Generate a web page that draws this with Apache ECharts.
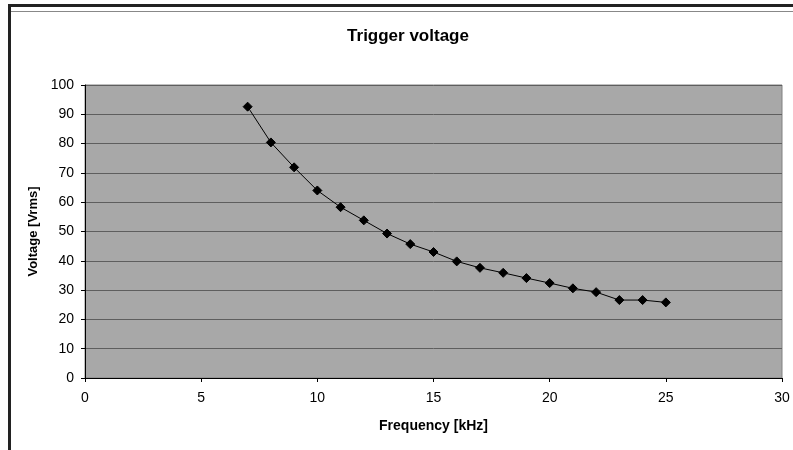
<!DOCTYPE html>
<html>
<head>
<meta charset="utf-8">
<script src="https://cdn.jsdelivr.net/npm/echarts@6/dist/echarts.min.js"></script>
<style>
html,body{margin:0;padding:0;background:#fff;}
#c{width:793px;height:450px;}
</style>
</head>
<body>
<div id="c"></div>
<script>
var frequencies = [7, 8, 9, 10, 11, 12, 13, 14, 15, 16, 17, 18, 19, 20, 21, 22, 23, 24, 25];
var voltages = [92.6, 80.4, 71.9, 64.0, 58.3, 53.8, 49.3, 45.7, 43.0, 39.8, 37.6, 35.9, 34.1, 32.4, 30.6, 29.3, 26.6, 26.6, 25.8];
var titleText = 'Trigger voltage';
var xName = 'Frequency [kHz]';
var yName = 'Voltage [Vrms]';

var points = frequencies.map(function (f, i) { return [f, voltages[i]]; });
var font = 'Liberation Sans, Arial, sans-serif';

var chart = echarts.init(document.getElementById('c'));
chart.setOption({
  animation: false,
  backgroundColor: '#ffffff',
  title: {
    text: titleText,
    left: 403,
    top: 23,
    textAlign: 'center',
    textStyle: { fontFamily: font, fontSize: 17, fontWeight: 'bold', color: '#000' }
  },
  grid: {
    left: 85, right: 11, top: 85, bottom: 72,
    show: true,
    backgroundColor: '#a8a8a8',
    borderColor: '#808080',
    borderWidth: 1
  },
  xAxis: {
    type: 'value',
    min: 0, max: 30, interval: 5,
    name: xName,
    nameLocation: 'middle',
    nameGap: 41,
    nameTextStyle: { fontFamily: font, fontSize: 14, fontWeight: 'bold', color: '#000' },
    axisLine: { show: true, lineStyle: { color: '#000', width: 1 } },
    axisTick: { show: true, length: 4, lineStyle: { color: '#000' } },
    axisLabel: { fontFamily: font, fontSize: 14, color: '#000', margin: 13 },
    splitLine: { show: false }
  },
  yAxis: {
    type: 'value',
    min: 0, max: 100, interval: 10,
    name: yName,
    nameLocation: 'middle',
    nameGap: 42,
    nameTextStyle: { fontFamily: font, fontSize: 13, fontWeight: 'bold', color: '#000' },
    axisLine: { show: true, lineStyle: { color: '#000', width: 1 } },
    axisTick: { show: true, length: 4, lineStyle: { color: '#000' } },
    axisLabel: { fontFamily: font, fontSize: 14, color: '#000', margin: 11 },
    splitLine: { show: true, lineStyle: { color: '#5e5e5e', width: 1 } }
  },
  series: [{
    type: 'line',
    data: points,
    symbol: 'diamond',
    symbolSize: 9,
    showAllSymbol: true,
    lineStyle: { color: '#000', width: 1 },
    itemStyle: { color: '#000', borderColor: '#000' }
  }],
  graphic: [
    { type: 'rect', shape: { x: 8, y: 4, width: 785, height: 3 }, style: { fill: '#222' }, silent: true },
    { type: 'rect', shape: { x: 8, y: 4, width: 3, height: 446 }, style: { fill: '#222' }, silent: true },
    { type: 'rect', shape: { x: 11, y: 11, width: 782, height: 1 }, style: { fill: '#888' }, silent: true }
  ]
});
</script>
</body>
</html>
